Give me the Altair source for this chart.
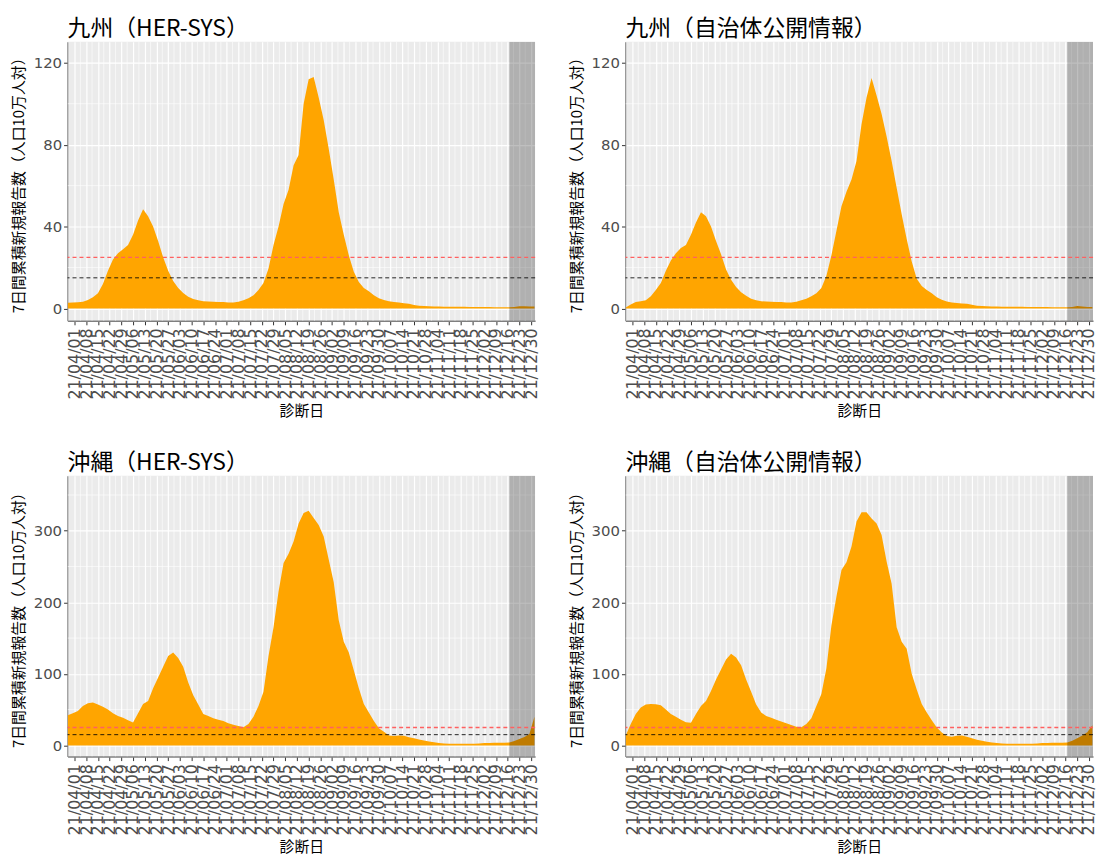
import altair as alt
import pandas as pd

# ---------------- data (values every 3 days) ----------------
DAY_OFFSETS = list(range(-4, 276, 3))  # days relative to 2021-04-01

KYUSHU_HER = [2.8, 3.0, 3.1, 3.3, 4.2, 5.5, 7.5, 12, 18.5, 24, 27, 29, 31, 36, 43, 48.5,
              45, 40, 33, 25, 18.5, 13.5, 10, 7.6, 5.8, 4.6, 4.0, 3.6, 3.4, 3.3, 3.2, 3.2,
              3.0, 2.9, 3.3, 4.0, 5.0, 6.5, 9, 12.5, 19.5, 31, 40, 51, 58, 70, 75, 100,
              112, 113, 103, 92, 78, 63, 47, 36, 26, 18, 13, 10, 8.5, 6.5, 5, 4.2, 3.6,
              3.2, 2.9, 2.6, 2.3, 1.7, 1.3, 1.2, 1.1, 1.0, 1.0, 0.9, 0.9, 0.9, 0.9, 0.9,
              0.8, 0.8, 0.8, 0.7, 0.7, 0.6, 0.6, 0.6, 0.6, 0.8, 1.1, 1.1, 1.0, 1.0]

KYUSHU_PUB = [0.5, 2.0, 3.2, 3.5, 4.0, 6.0, 9, 12.5, 18.5, 23.5, 27, 29.5, 31, 36, 42, 47,
              45, 40, 33, 26.5, 19, 14, 10.5, 8, 6.2, 4.8, 4.0, 3.6, 3.4, 3.3, 3.2, 3.2,
              3.0, 2.9, 3.3, 4.0, 4.8, 6.0, 7.5, 10, 16, 26, 38, 50, 57, 63, 72, 90,
              103, 112.5, 104, 95, 84, 72, 59, 46, 34, 23, 14.5, 11, 9, 7.5, 5.5, 4.3, 3.4,
              3.0, 2.7, 2.5, 2.3, 1.8, 1.4, 1.2, 1.1, 1.0, 1.0, 0.9, 0.9, 0.9, 0.9, 0.9,
              0.8, 0.8, 0.8, 0.7, 0.7, 0.6, 0.6, 0.6, 0.6, 0.8, 1.2, 1.0, 0.8, 0.8]

OKINAWA_HER = [42, 45, 48, 55, 59, 60, 57, 54, 50, 45, 41, 38.5, 35, 32, 45, 58,
               62, 80, 95, 110, 125, 130, 122, 110, 88, 70, 57, 44, 41, 38, 36, 34,
               31, 29, 27, 25.5, 30, 40, 55, 75, 125, 165, 215, 255, 268, 285, 310, 325,
               328, 318, 308, 292, 260, 228, 175, 145, 130, 105, 80, 58, 46, 34, 24, 19, 14,
               13, 14, 13.5, 11.5, 10, 8.4, 7, 5.6, 4.5, 3.5, 2.8, 2.3, 2.2, 2.2, 2.3,
               2.3, 2.4, 2.8, 3.2, 3.5, 3.7, 3.7, 3.7, 4.0, 6, 9, 11.6, 16, 40]

OKINAWA_PUB = [14, 30, 44, 53, 57, 58, 57.5, 56, 50, 44, 40, 36, 32.5, 31.5, 44, 55,
               62, 76, 92, 106, 120, 128, 123, 112, 92, 75, 57, 46, 41, 38.5, 36, 33.5,
               31, 28.5, 26, 25.5, 30, 38, 55, 72, 108, 168, 208, 245, 256, 278, 313, 326,
               326, 317, 310, 294, 257, 226, 165, 145, 135, 100, 78, 58, 46, 35, 25, 18, 13,
               12, 13.5, 14, 12, 10, 8, 6.5, 5, 4, 3.3, 2.6, 2.3, 2.2, 2.2, 2.3,
               2.3, 2.4, 2.8, 3.2, 3.5, 3.7, 3.7, 3.7, 4.2, 6.5, 10, 14, 18.5, 28]

TITLES = ["九州（HER-SYS）", "九州（自治体公開情報）", "沖縄（HER-SYS）", "沖縄（自治体公開情報）"]
Y_TITLE = "7日間累積新規報告数（人口10万人対）"
X_TITLE = "診断日"

TOP_TICKS = [0, 40, 80, 120]
TOP_MINOR = [20, 60, 100]
BOT_TICKS = [0, 100, 200, 300]
BOT_MINOR = [50, 150, 250, 350]
TOP_DOMAIN = [-6.0, 130.2]
BOT_DOMAIN = [-15.7, 377.0]

RED_LINE = 25
BLACK_LINE = 15
SHADE_START = "2021-12-17"

# ---------------- helpers ----------------
START = pd.Timestamp("2021-04-01")
dates = [START + pd.Timedelta(days=d) for d in DAY_OFFSETS]
tick_dates = [START + pd.Timedelta(days=7 * k) for k in range(40)]
minor_dates = [START + pd.Timedelta(days=7 * k - 3.5) for k in range(40)]
XMIN = alt.DateTime(year=2021, month=3, date=27, hours=20, minutes=24)
XMAX = alt.DateTime(year=2022, month=1, date=1, hours=10)
tick_values = [alt.DateTime(year=t.year, month=t.month, date=t.day) for t in tick_dates]

W = 471


def panel(title, vals, ydomain, yticks, yminor, height):
    x_enc = alt.X(
        "date:T",
        scale=alt.Scale(domain=[XMIN, XMAX]),
        axis=alt.Axis(values=tick_values, format="%y/%m/%d", labelAngle=270,
                      labelOverlap=False, title=X_TITLE, labelPadding=3,
                      labelFontSize=16, titlePadding=5),
    )
    y_enc = alt.Y(
        "value:Q",
        scale=alt.Scale(domain=ydomain, nice=False, zero=False),
        axis=alt.Axis(values=yticks, title=Y_TITLE, labelPadding=2, titlePadding=7),
    )
    df = pd.DataFrame({"date": dates, "value": vals})
    vgrid = alt.Chart(pd.DataFrame({"date": minor_dates})).mark_rule(
        color="white", strokeWidth=0.6, clip=True).encode(x=x_enc)
    hgrid = alt.Chart(pd.DataFrame({"value": yminor})).mark_rule(
        color="white", strokeWidth=0.6, clip=True).encode(y=y_enc)
    area = alt.Chart(df).mark_area(color="#FFA500", opacity=1, clip=True).encode(
        x=x_enc, y=y_enc, y2=alt.datum(0))
    shade = alt.Chart(pd.DataFrame({"date": [pd.Timestamp(SHADE_START)],
                                    "date2": [pd.Timestamp("2022-01-01T10:00")]})).mark_rect(
        color="black", opacity=0.25, clip=True).encode(x=x_enc, x2="date2:T")
    red = alt.Chart(pd.DataFrame({"value": [RED_LINE]})).mark_rule(
        color="#FF6060", opacity=1, strokeDash=[4, 3], strokeWidth=1.3).encode(y=y_enc)
    blk = alt.Chart(pd.DataFrame({"value": [BLACK_LINE]})).mark_rule(
        color="black", opacity=0.85, strokeDash=[4, 3], strokeWidth=1).encode(y=y_enc)
    return alt.layer(vgrid, hgrid, area, shade, red, blk).properties(
        width=W, height=height, title=alt.TitleParams(title))


p1 = panel(TITLES[0], KYUSHU_HER, TOP_DOMAIN, TOP_TICKS, TOP_MINOR, 281)
p2 = panel(TITLES[1], KYUSHU_PUB, TOP_DOMAIN, TOP_TICKS, TOP_MINOR, 281)
p3 = panel(TITLES[2], OKINAWA_HER, BOT_DOMAIN, BOT_TICKS, BOT_MINOR, 283)
p4 = panel(TITLES[3], OKINAWA_PUB, BOT_DOMAIN, BOT_TICKS, BOT_MINOR, 283)

chart = alt.vconcat(
    alt.hconcat(p1, p2, spacing=30),
    alt.hconcat(p3, p4, spacing=30),
    spacing=33,
).properties(
    padding={"left": 3, "top": 7, "right": 0, "bottom": 0},
    background="white",
).configure_view(
    fill="#EBEBEB", stroke=None
).configure_axis(
    domainColor="#7F7F7F", domainWidth=1.5,
    tickColor="#333333", tickSize=4, tickWidth=1,
    labelColor="#4D4D4D", labelFont="DejaVu Sans", labelFontSize=15,
    gridColor="white", gridWidth=1.2,
    titleFont="Noto Sans CJK JP", titleFontSize=15, titleColor="black",
    titleFontWeight="normal",
).configure_title(
    font="Noto Sans CJK JP", fontSize=23, fontWeight="normal", color="black",
    anchor="start", frame="group", offset=1,
)

chart.save("out.html", embed_options={"renderer": "svg", "actions": False})
